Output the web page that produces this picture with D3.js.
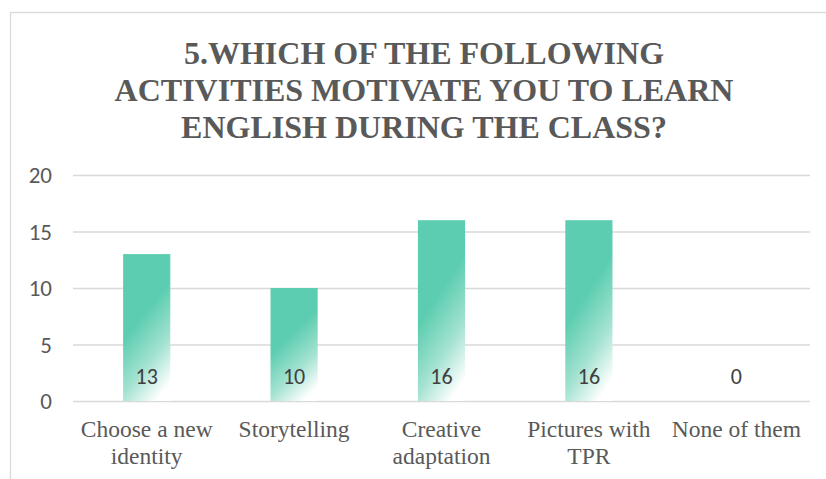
<!DOCTYPE html>
<html>
<head>
<meta charset="utf-8">
<script src="https://cdn.jsdelivr.net/npm/d3@7/dist/d3.min.js"></script>
<style>
  html, body { margin: 0; padding: 0; background: #fff; }
  svg { display: block; }
</style>
</head>
<body>
<svg id="chart" width="826" height="479"></svg>
<script>
// Survey answers: number of students per activity
const categories = [
  ["Choose a new", "identity"],
  ["Storytelling"],
  ["Creative", "adaptation"],
  ["Pictures with", "TPR"],
  ["None of them"]
];
const values = [13, 10, 16, 16, 0];
const yTicks = [0, 5, 10, 15, 20];
const titleLines = [
  "5.WHICH OF THE FOLLOWING",
  "ACTIVITIES MOTIVATE YOU TO LEARN",
  "ENGLISH DURING THE CLASS?"
];

const SERIF = "Liberation Serif";
const SANS = "Carlito";

const svg = d3.select("#chart");
const W = 826, H = 479;
const plot = { left: 73, right: 810, top: 175, bottom: 401 };

// chart frame
svg.append("rect")
  .attr("x", 10.5).attr("y", 12.5)
  .attr("width", W + 20).attr("height", H + 20)
  .attr("fill", "#fff").attr("stroke", "#d9d9d9").attr("stroke-width", 1.3);

// bar fill: solid teal fading to white toward the bottom right
const defs = svg.append("defs");
const grad = defs.append("linearGradient")
  .attr("id", "barFill")
  .attr("x1", "0.3").attr("y1", "0")
  .attr("x2", "0.7").attr("y2", "1");
grad.append("stop").attr("offset", "0%").attr("stop-color", "#5ccdb0");
grad.append("stop").attr("offset", "40%").attr("stop-color", "#5ccdb0");
grad.append("stop").attr("offset", "72%").attr("stop-color", "#a3e2d1");
grad.append("stop").attr("offset", "100%").attr("stop-color", "#ffffff");

// title
const title = svg.append("g").attr("class", "title");
title.selectAll("text")
  .data(titleLines)
  .join("text")
  .attr("x", 424)
  .attr("y", (d, i) => 64 + i * 37)
  .attr("text-anchor", "middle")
  .style("font-family", SERIF)
  .style("font-weight", "bold")
  .style("font-size", "32px")
  .attr("fill", "#595959")
  .text(d => d);

const x = d3.scaleBand()
  .domain(d3.range(categories.length))
  .range([plot.left, plot.right])
  .paddingInner(0.68)
  .paddingOuter(0.34);

const y = d3.scaleLinear()
  .domain([0, 20])
  .range([plot.bottom, plot.top]);

// horizontal gridlines
const yAxis = d3.axisLeft(y)
  .tickValues(yTicks)
  .tickSize(-(plot.right - plot.left))
  .tickPadding(21)
  .tickFormat(d3.format("d"));

const gy = svg.append("g")
  .attr("transform", `translate(${plot.left},0)`)
  .call(yAxis);
gy.select(".domain").remove();
gy.selectAll(".tick line")
  .attr("stroke", "#d9d9d9")
  .attr("stroke-width", 1.6);
gy.selectAll(".tick text")
  .style("font-family", SANS)
  .style("font-size", "23px")
  .attr("fill", "#595959")
  .attr("dy", "0.33em");

// bars
svg.append("g").selectAll("rect")
  .data(values)
  .join("rect")
  .attr("x", (d, i) => x(i))
  .attr("width", x.bandwidth())
  .attr("y", d => y(d))
  .attr("height", d => y(0) - y(d))
  .attr("fill", "url(#barFill)");

// value labels
svg.append("g").selectAll("text")
  .data(values)
  .join("text")
  .attr("x", (d, i) => x(i) + x.bandwidth() / 2)
  .attr("y", 384)
  .attr("text-anchor", "middle")
  .style("font-family", SANS)
  .style("font-size", "22px")
  .attr("fill", "#404040")
  .text(d => d);

// category labels
const xAxis = d3.axisBottom(x).tickSize(0).tickFormat("");
const gx = svg.append("g")
  .attr("transform", `translate(0,${plot.bottom})`)
  .call(xAxis);
gx.select(".domain").remove();
gx.selectAll(".tick").each(function (i) {
  const t = d3.select(this).append("text")
    .attr("text-anchor", "middle")
    .style("font-family", SERIF)
    .style("font-size", "23.5px")
    .attr("fill", "#595959");
  categories[i].forEach((line, k) => {
    t.append("tspan").attr("x", 0).attr("y", 36 + k * 27).text(line);
  });
});
</script>
</body>
</html>
